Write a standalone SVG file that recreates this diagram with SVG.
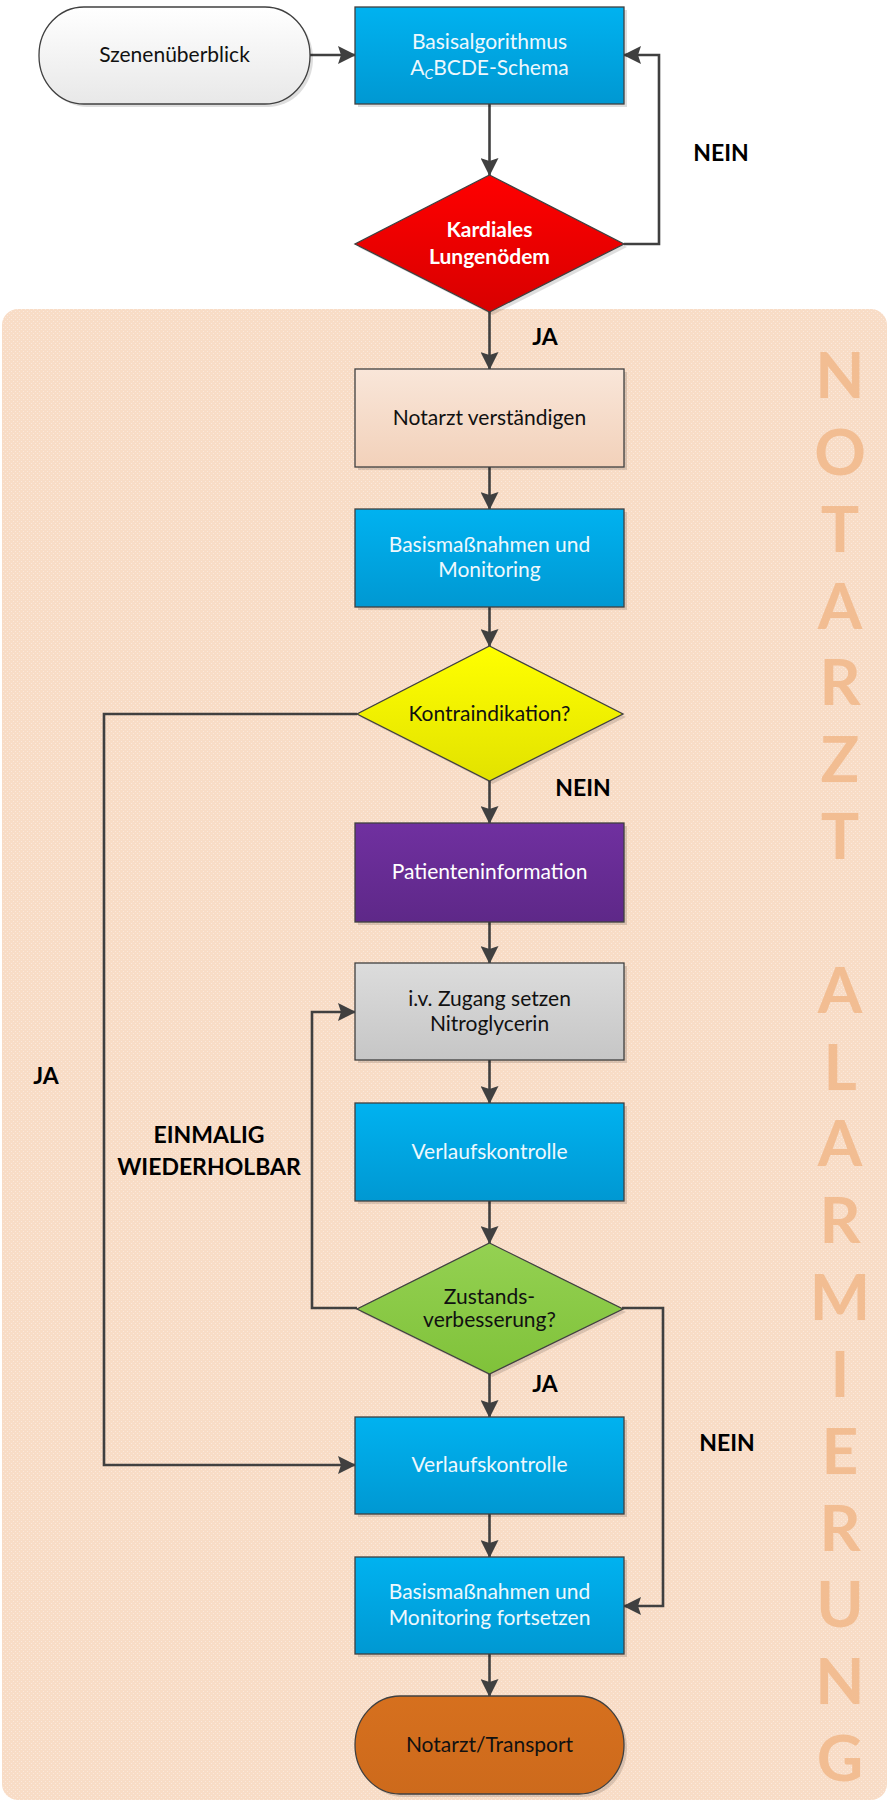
<svg xmlns="http://www.w3.org/2000/svg" width="889" height="1802" viewBox="0 0 889 1802">
<defs>
<style>
.t{font-family:Lato,"Open Sans","Liberation Sans",sans-serif;font-size:21px;text-anchor:middle}
.w{fill:#EEF8FD}
.k{fill:#111}
.b{font-weight:bold}
.lab{font-family:Lato,"Open Sans","Liberation Sans",sans-serif;font-size:23px;font-weight:bold;fill:#000;text-anchor:middle}
.big{font-family:Lato,"Open Sans","Liberation Sans",sans-serif;font-size:64px;font-weight:bold;fill:#F2BD92;text-anchor:middle}
.node{stroke:#404040;stroke-width:1.3}
.sh{fill:#000;opacity:0.13}
.c{fill:none;stroke:#404040;stroke-width:2.6}
</style>
<linearGradient id="gBlue" x1="0" y1="0" x2="0" y2="1"><stop offset="0" stop-color="#00B2F0"/><stop offset="1" stop-color="#0098D2"/></linearGradient>
<linearGradient id="gRed" x1="0" y1="0" x2="0" y2="1"><stop offset="0" stop-color="#FF0000"/><stop offset="1" stop-color="#D80000"/></linearGradient>
<linearGradient id="gPeach" x1="0" y1="0" x2="0" y2="1"><stop offset="0" stop-color="#F9E6D9"/><stop offset="1" stop-color="#F2D1BA"/></linearGradient>
<linearGradient id="gYel" x1="0" y1="0" x2="0" y2="1"><stop offset="0" stop-color="#FFFF00"/><stop offset="1" stop-color="#E2E200"/></linearGradient>
<linearGradient id="gPur" x1="0" y1="0" x2="0" y2="1"><stop offset="0" stop-color="#7030A0"/><stop offset="1" stop-color="#5E2888"/></linearGradient>
<linearGradient id="gGrey" x1="0" y1="0" x2="0" y2="1"><stop offset="0" stop-color="#DCDCDC"/><stop offset="1" stop-color="#C6C6C6"/></linearGradient>
<linearGradient id="gGreen" x1="0" y1="0" x2="0" y2="1"><stop offset="0" stop-color="#94D152"/><stop offset="1" stop-color="#80C23A"/></linearGradient>
<linearGradient id="gWhite" x1="0" y1="0" x2="0" y2="1"><stop offset="0" stop-color="#FFFFFF"/><stop offset="1" stop-color="#E8E8E8"/></linearGradient>
<linearGradient id="gOr" x1="0" y1="0" x2="0" y2="1"><stop offset="0" stop-color="#D6701E"/><stop offset="1" stop-color="#CD6A1C"/></linearGradient>
<pattern id="dots" width="4" height="4" patternUnits="userSpaceOnUse"><rect width="4" height="4" fill="#F8DCC6"/><rect x="1" y="1" width="1" height="1" fill="#FBE9DC"/><rect x="3" y="3" width="1" height="1" fill="#FBE9DC"/></pattern>
<marker id="ah" viewBox="0 0 18 18" refX="17" refY="9" markerWidth="18" markerHeight="18" markerUnits="userSpaceOnUse" orient="auto"><path d="M0,0 L18,9 L0,18 L3,9 z" fill="#404040"/></marker>
</defs>

<g id="background">
<rect x="2" y="309" width="885" height="1491" rx="16" ry="16" fill="url(#dots)"/>
<text class="big"><tspan x="840" y="398">N</tspan><tspan x="840" y="474.8">O</tspan><tspan x="840" y="551.7">T</tspan><tspan x="840" y="628.5">A</tspan><tspan x="840" y="705.3">R</tspan><tspan x="840" y="782.2">Z</tspan><tspan x="840" y="859">T</tspan><tspan x="840" y="1012.6">A</tspan><tspan x="840" y="1089.5">L</tspan><tspan x="840" y="1166.3">A</tspan><tspan x="840" y="1243.1">R</tspan><tspan x="840" y="1320">M</tspan><tspan x="840" y="1396.8">I</tspan><tspan x="840" y="1473.6">E</tspan><tspan x="840" y="1550.5">R</tspan><tspan x="840" y="1627.3">U</tspan><tspan x="840" y="1704.1">N</tspan><tspan x="840" y="1781">G</tspan></text>
</g>

<g id="connectors">
<path class="c" d="M310,55 H355" marker-end="url(#ah)"/>
<path class="c" d="M489.5,104 V175" marker-end="url(#ah)"/>
<path class="c" d="M624,244 H659 V55 H624" marker-end="url(#ah)"/>
<path class="c" d="M489.5,312 V369" marker-end="url(#ah)"/>
<path class="c" d="M489.5,467 V509" marker-end="url(#ah)"/>
<path class="c" d="M489.5,607 V646" marker-end="url(#ah)"/>
<path class="c" d="M357,714 H104 V1465 H355" marker-end="url(#ah)"/>
<path class="c" d="M489.5,781 V823" marker-end="url(#ah)"/>
<path class="c" d="M489.5,922 V963" marker-end="url(#ah)"/>
<path class="c" d="M489.5,1060 V1103" marker-end="url(#ah)"/>
<path class="c" d="M489.5,1201 V1243" marker-end="url(#ah)"/>
<path class="c" d="M357,1308 H312 V1012 H355" marker-end="url(#ah)"/>
<path class="c" d="M622,1308 H663 V1606 H624" marker-end="url(#ah)"/>
<path class="c" d="M489.5,1374 V1417" marker-end="url(#ah)"/>
<path class="c" d="M489.5,1514 V1557" marker-end="url(#ah)"/>
<path class="c" d="M489.5,1654 V1696" marker-end="url(#ah)"/>
</g>

<g id="labels">
<text class="lab" x="721" y="161">NEIN</text>
<text class="lab" x="545" y="345">JA</text>
<text class="lab" x="583" y="796">NEIN</text>
<text class="lab" x="46" y="1084">JA</text>
<text class="lab" x="209" y="1143">EINMALIG</text>
<text class="lab" x="209" y="1175">WIEDERHOLBAR</text>
<text class="lab" x="545" y="1392">JA</text>
<text class="lab" x="727" y="1451">NEIN</text>
</g>

<g id="n_szenen">
<rect class="sh" x="42" y="10" width="271" height="97" rx="45" ry="48"/>
<rect class="node" x="39" y="7" width="271" height="97" rx="45" ry="48" fill="url(#gWhite)"/>
<text class="t k" x="174.5" y="62">Szenenüberblick</text>
</g>

<g id="n_basisalg">
<rect class="sh" x="358" y="10" width="269" height="97"/>
<rect class="node" x="355" y="7" width="269" height="97" fill="url(#gBlue)"/>
<text class="t w" x="489.5" y="49">Basisalgorithmus</text>
<text class="t w" x="489.5" y="75">A<tspan font-size="14" font-style="italic" dy="4">C</tspan><tspan dy="-4">BCDE-Schema</tspan></text>
</g>

<g id="n_kardial">
<polygon class="sh" points="492.5,178 627,247 492.5,315 358,247"/>
<polygon class="node" points="489.5,175 624,244 489.5,312 355,244" fill="url(#gRed)"/>
<text class="t b" fill="#fff" x="489.5" y="237">Kardiales</text>
<text class="t b" fill="#fff" x="489.5" y="264">Lungenödem</text>
</g>

<g id="n_notarzt">
<rect class="sh" x="358" y="372" width="269" height="98"/>
<rect class="node" x="355" y="369" width="269" height="98" fill="url(#gPeach)"/>
<text class="t k" x="489.5" y="425">Notarzt verständigen</text>
</g>

<g id="n_basis1">
<rect class="sh" x="358" y="512" width="269" height="98"/>
<rect class="node" x="355" y="509" width="269" height="98" fill="url(#gBlue)"/>
<text class="t w" x="489.5" y="552">Basismaßnahmen und</text>
<text class="t w" x="489.5" y="577">Monitoring</text>
</g>

<g id="n_kontra">
<polygon class="sh" points="492.5,649 626,717 492.5,784 360,717"/>
<polygon class="node" points="489.5,646 623,714 489.5,781 357,714" fill="url(#gYel)"/>
<text class="t k" x="489.5" y="721">Kontraindikation?</text>
</g>

<g id="n_patient">
<rect class="sh" x="358" y="826" width="269" height="99"/>
<rect class="node" x="355" y="823" width="269" height="99" fill="url(#gPur)"/>
<text class="t" fill="#fff" x="489.5" y="879">Patienteninformation</text>
</g>

<g id="n_iv">
<rect class="sh" x="358" y="966" width="269" height="97"/>
<rect class="node" x="355" y="963" width="269" height="97" fill="url(#gGrey)"/>
<text class="t k" x="489.5" y="1006">i.v. Zugang setzen</text>
<text class="t k" x="489.5" y="1031">Nitroglycerin</text>
</g>

<g id="n_verlauf1">
<rect class="sh" x="358" y="1106" width="269" height="98"/>
<rect class="node" x="355" y="1103" width="269" height="98" fill="url(#gBlue)"/>
<text class="t w" x="489.5" y="1159">Verlaufskontrolle</text>
</g>

<g id="n_zustand">
<polygon class="sh" points="492.5,1246 626,1312 492.5,1377 360,1312"/>
<polygon class="node" points="489.5,1243 623,1309 489.5,1374 357,1309" fill="url(#gGreen)"/>
<text class="t k" x="489.5" y="1304">Zustands-</text>
<text class="t k" x="489.5" y="1327">verbesserung?</text>
</g>

<g id="n_verlauf2">
<rect class="sh" x="358" y="1420" width="269" height="97"/>
<rect class="node" x="355" y="1417" width="269" height="97" fill="url(#gBlue)"/>
<text class="t w" x="489.5" y="1472">Verlaufskontrolle</text>
</g>

<g id="n_basis2">
<rect class="sh" x="358" y="1560" width="269" height="97"/>
<rect class="node" x="355" y="1557" width="269" height="97" fill="url(#gBlue)"/>
<text class="t w" x="489.5" y="1599">Basismaßnahmen und</text>
<text class="t w" x="489.5" y="1625">Monitoring fortsetzen</text>
</g>

<g id="n_transport">
<rect class="sh" x="358" y="1699" width="269" height="98" rx="45" ry="49"/>
<rect class="node" x="355" y="1696" width="269" height="98" rx="45" ry="49" fill="url(#gOr)"/>
<text class="t k" x="489.5" y="1752">Notarzt/Transport</text>
</g>
</svg>
